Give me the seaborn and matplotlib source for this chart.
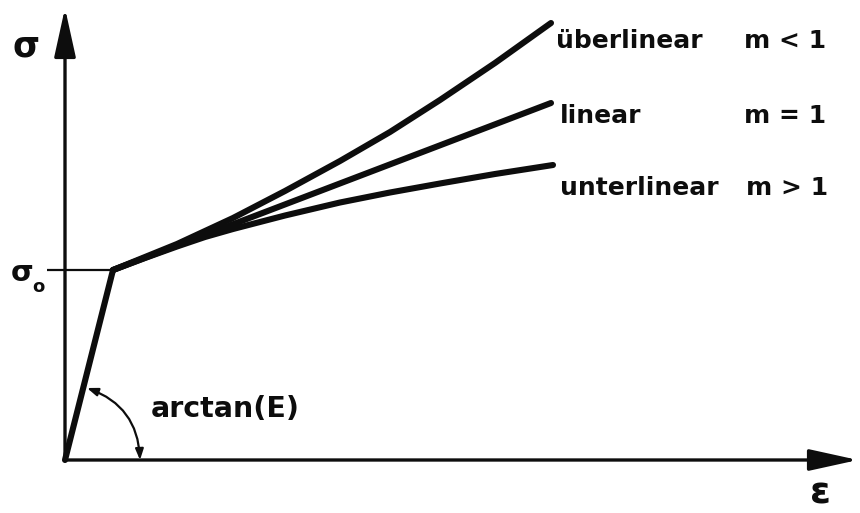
import matplotlib
matplotlib.use("Agg")
import matplotlib.pyplot as plt
import pandas as pd
import seaborn as sns
from matplotlib.patches import FancyArrowPatch

# Elastic branch: origin up to the yield point
eps_elastic = [0.0, 0.48]
sig_elastic = [0.0, 1.90]

# Yield stress level
sigma0 = 1.90
eps_yield = 0.48

# Hardening branches beyond the yield point
eps_ueber = [0.48, 0.80, 1.12, 1.40, 1.68, 2.20, 2.75, 3.25, 3.75, 4.30, 4.86]
sig_ueber = [1.90, 2.03, 2.16, 2.29, 2.42, 2.69, 2.99, 3.28, 3.60, 3.97, 4.37]

eps_lin = [0.48, 4.86]
sig_lin = [1.90, 3.57]

eps_unter = [0.48, 0.80, 1.12, 1.40, 1.68, 2.20, 2.75, 3.25, 3.75, 4.30, 4.88]
sig_unter = [1.90, 2.02, 2.135, 2.23, 2.31, 2.445, 2.575, 2.675, 2.765, 2.86, 2.95]

branch_names = ["überlinear", "linear", "unterlinear"]
exponent_labels = ["m < 1", "m = 1", "m > 1"]

frames = [
    pd.DataFrame({"eps": eps_elastic, "sig": sig_elastic, "branch": "elastisch"}),
    pd.DataFrame({"eps": eps_ueber, "sig": sig_ueber, "branch": branch_names[0]}),
    pd.DataFrame({"eps": eps_lin, "sig": sig_lin, "branch": branch_names[1]}),
    pd.DataFrame({"eps": eps_unter, "sig": sig_unter, "branch": branch_names[2]}),
]
df = pd.concat(frames, ignore_index=True)

sns.set_theme(style="white")
plt.rcParams["font.family"] = ["DejaVu Sans"]
plt.rcParams["font.weight"] = "bold"

fig = plt.figure(figsize=(8.6, 5.13), dpi=100)
ax = fig.add_axes([0, 0, 1, 1])
ax.set_xlim(-0.65, 7.95)
ax.set_ylim(-0.53, 4.60)
ax.set_axis_off()

ink = "#0d0d0d"

sns.lineplot(data=df, x="eps", y="sig", units="branch", estimator=None,
             sort=False, color=ink, lw=4.4, legend=False, ax=ax,
             solid_capstyle="round", solid_joinstyle="round")

# Coordinate axes with arrow heads
axis_arrow = dict(arrowstyle="-|>,head_length=1.5,head_width=0.33",
                  mutation_scale=20, lw=2.4, color=ink, shrinkA=0, shrinkB=0)
ax.annotate("", xy=(0, 4.52), xytext=(0, 0), arrowprops=axis_arrow)
ax.annotate("", xy=(7.93, 0.0), xytext=(0, 0), arrowprops=axis_arrow)

# Yield stress marker
ax.plot([-0.18, eps_yield], [sigma0, sigma0], color=ink, lw=1.6,
        solid_capstyle="butt")

# Angle arc for the elastic slope
arc = FancyArrowPatch(posA=(0.75, 0.0), posB=(0.22, 0.72),
                      connectionstyle="arc3,rad=0.333",
                      arrowstyle="<|-|>,head_length=0.8,head_width=0.3",
                      mutation_scale=8, lw=1.6, color=ink,
                      shrinkA=0, shrinkB=0)
ax.add_patch(arc)

# Axis symbols
ax.text(-0.39, 4.13, "σ", fontsize=25, ha="center", va="center", color=ink)
ax.text(7.55, -0.34, "ε", fontsize=27, ha="center", va="center", color=ink)
ax.text(-0.43, 1.87, "σ", fontsize=21, ha="center", va="center", color=ink)
ax.text(-0.27, 1.73, "o", fontsize=13, ha="center", va="center", color=ink)

# Branch labels
name_pos = [(4.91, 4.12), (4.95, 3.37), (4.95, 2.65)]
exp_x = [6.79, 6.79, 6.81]
for name, lab, (x, y), xe in zip(branch_names, exponent_labels, name_pos, exp_x):
    ax.text(x, y, name, fontsize=18, ha="left", va="baseline", color=ink)
    ax.text(xe, y, lab, fontsize=18, ha="left", va="baseline", color=ink)

ax.text(0.86, 0.43, "arctan(E)", fontsize=20.5, ha="left", va="baseline", color=ink)

fig.savefig("out.png", dpi=100, facecolor="white")
